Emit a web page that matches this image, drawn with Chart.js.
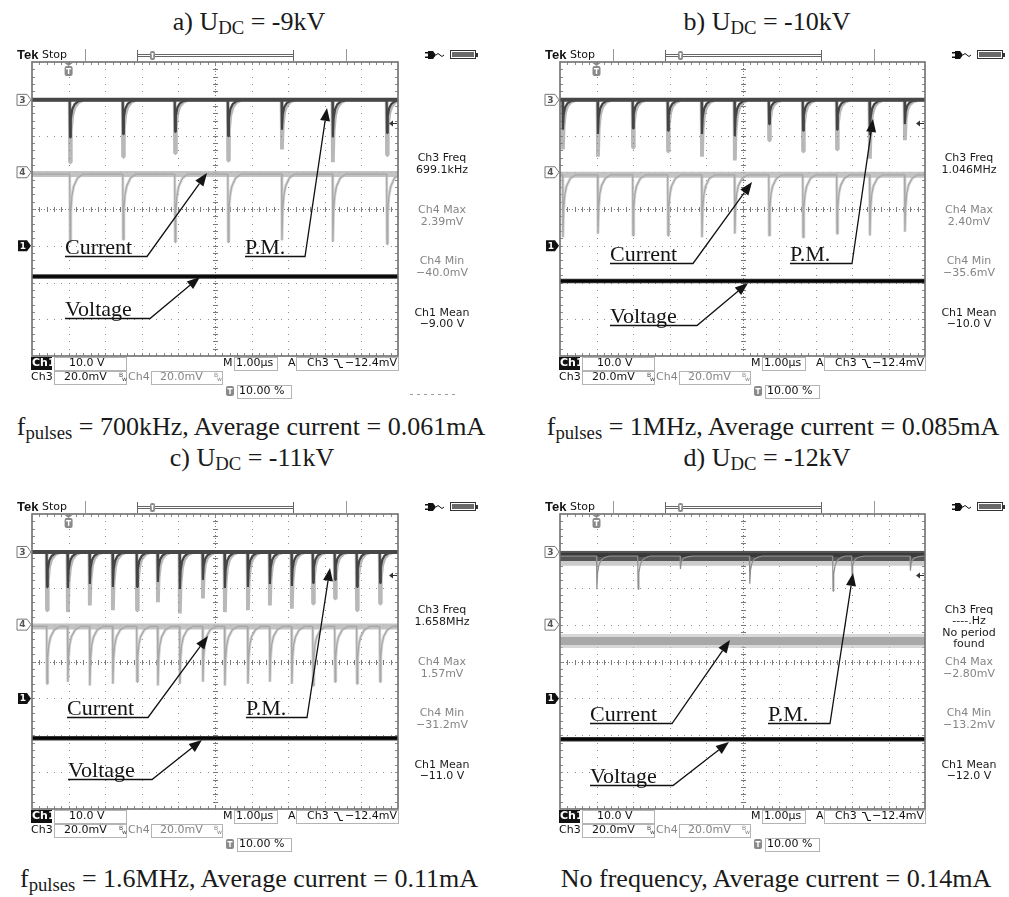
<!DOCTYPE html>
<html>
<head>
<meta charset="utf-8">
<script src="https://cdn.jsdelivr.net/npm/chart.js@4.4.1/dist/chart.umd.min.js"></script>
<style>
html,body{margin:0;padding:0;background:#fff;}
body{width:1009px;height:897px;position:relative;overflow:hidden;font-family:"Liberation Serif","Times New Roman",serif;}
.t{position:absolute;width:520px;text-align:center;font-size:26px;line-height:26px;color:#1a1a1a;white-space:nowrap;}
.t sub{font-size:0.72em;vertical-align:baseline;position:relative;top:0.24em;}
.p{position:absolute;}
</style>
</head>
<body>
<div id="root"></div>
<script>
// ---------------- data ----------------
const PANEL_LABELS = ['a', 'b', 'c', 'd'];
const UDC_KV = [-9, -10, -11, -12];
const F_PULSES = ['700kHz', '1MHz', '1.6MHz', null];
const AVG_CURRENT_MA = ['0.061', '0.085', '0.11', '0.14'];

// scope settings
const CH3_REF = 2.97;      // ch3 marker (div from centre)
const CH4_REF = 1.0;       // ch4 marker
const CH1_REF = -1.0;      // ch1 ground marker
const CH1_V_PER_DIV = 10;
const CH34_MV_PER_DIV = 20;
const TRIG_TIME_US = 1.0;
const TRIG_LEVEL_MV = -12.4;

// pulse times (µs from left edge) and depths (div)
const PULSES_A = [1.04, 2.49, 3.91, 5.36, 6.83, 8.22, 9.70];
const PM_DEPTH_A = [1.70, 1.55, 1.45, 1.65, 1.35, 1.70, 1.50];
const CUR_DEPTH_A = [1.85, 1.78, 1.85, 1.85, 1.80, 1.85, 1.90];

const PULSES_B = [0.08, 1.04, 2.00, 2.96, 3.89, 4.79, 5.73, 6.66, 7.59, 8.49, 9.45];
const PM_DEPTH_B = [1.35, 1.55, 1.30, 1.40, 1.55, 1.65, 1.10, 1.40, 1.35, 1.60, 1.10];
const CUR_DEPTH_B = [1.70, 1.60, 1.65, 1.65, 1.70, 1.60, 1.65, 1.70, 1.60, 1.65, 1.55];

const PULSES_C = [0.41, 0.98, 1.58, 2.21, 2.87, 3.44, 4.04, 4.67, 5.27, 5.90, 6.50, 7.10, 7.68, 8.28, 8.88, 9.51];
const PM_DEPTH_C = [1.58, 1.63, 1.45, 1.58, 1.58, 1.36, 1.67, 1.26, 1.63, 1.58, 1.45, 1.54, 1.40, 1.26, 1.58, 1.40];
const CUR_DEPTH_C = [1.55, 1.50, 1.60, 1.55, 1.50, 1.60, 1.55, 1.50, 1.60, 1.55, 1.50, 1.55, 1.60, 1.50, 1.55, 1.50];

const PULSES_D = [1.01, 2.14, 3.30, 5.20, 7.48, 8.00, 9.60];
const PM_DEPTH_D = [0.90, 0.90, 0.35, 0.75, 0.95, 0.50, 0.40];
const CUR_DEPTH_D = [];

// trace baselines relative to markers (div) and DC voltage trace (V)
const CH3_OFFSET = [0, 0, 0, -0.11];
const CH4_OFFSET = [-0.05, -0.07, -0.05, -0.445];
const VOLT_TRACE_V = [-8.4, -9.6, -10.8, -11.1];

// pulse shape (time offset µs, fraction of depth)
const PM_SHAPE_DT = [-0.01, 0, 0.02, 0.06, 0.12, 0.22, 0.35];
const PM_SHAPE_FR = [0, 1, 0.50, 0.25, 0.12, 0.04, 0];
const CUR_SHAPE_DT = [-0.01, 0, 0.02, 0.05, 0.10, 0.20, 0.35];
const CUR_SHAPE_FR = [0, 1, 0.55, 0.32, 0.18, 0.06, 0];

// readouts
const CH3_FREQ = ['699.1kHz', '1.046MHz', '1.658MHz', null];
const CH4_MAX = ['2.39mV', '2.40mV', '1.57mV', '\u22122.80mV'];
const CH4_MIN = ['\u221240.0mV', '\u221235.6mV', '\u221231.2mV', '\u221213.2mV'];
const CH1_MEAN = ['\u22129.00 V', '\u221210.0 V', '\u221211.0 V', '\u221212.0 V'];

// ---------------- layout ----------------
const X_MIN = 0, X_MAX = 10, Y_MIN = -4, Y_MAX = 4;
const PANELS = [
  {left: 0,   top: 40,  w: 504, h: 370, pad: {left: 32, top: 22, right: 106, bottom: 54},
   titleC: 249, titleTop: 9, capC: 251, capTop: 414,
   ann: [['Current', 33, 192, 115, 194, 175, 111], ['P.M.', 213, 192, 273, 194, 295, 46], ['Voltage', 33, 254, 118, 256, 168, 215]]},
  {left: 504, top: 40,  w: 505, h: 370, pad: {left: 56, top: 22, right: 84, bottom: 54},
   titleC: 767, titleTop: 9, capC: 773, capTop: 414,
   ann: [['Current', 50, 199, 133, 201, 192, 120], ['P.M.', 230, 199, 292, 201, 313, 57], ['Voltage', 50, 261, 137, 263, 188, 221]]},
  {left: 0,   top: 492, w: 504, h: 370, pad: {left: 32, top: 22, right: 106, bottom: 53},
   titleC: 252, titleTop: 445, capC: 249, capTop: 866,
   ann: [['Current', 35, 201, 116, 203, 176, 122], ['P.M.', 214, 201, 275, 203, 298, 54], ['Voltage', 36, 263, 120, 265, 170, 226]]},
  {left: 504, top: 492, w: 505, h: 370, pad: {left: 56, top: 22, right: 84, bottom: 53},
   titleC: 767, titleTop: 445, capC: 776, capTop: 866,
   ann: [['Current', 30, 207, 112, 209, 170, 126], ['P.M.', 208, 207, 270, 209, 293, 59], ['Voltage', 30, 269, 113, 271, 169, 228]]}
];

const SANS = '"DejaVu Sans", "Liberation Sans", Arial, sans-serif';
const SERIF = '"Liberation Serif", "Times New Roman", serif';

function pulseTrace(base, times, depths, dts, fracs, scale) {
  const pts = [{x: X_MIN, y: base}];
  times.forEach((t, i) => dts.forEach((dt, k) => pts.push({x: t + dt, y: base - depths[i] * fracs[k] * scale})));
  pts.sort((p, q) => p.x - q.x);
  if (pts[pts.length - 1].x < X_MAX) pts.push({x: X_MAX, y: base});
  return pts;
}
function flat(v) { return [{x: X_MIN, y: v}, {x: X_MAX, y: v}]; }

function ds(data, color, width, order) {
  return {data, borderColor: color, borderWidth: width, pointRadius: 0, fill: false, tension: 0, order, clip: 0,
          borderJoinStyle: 'bevel', borderCapStyle: 'butt'};
}

// ---------------- drawing helpers ----------------
function marker(ctx, L, cy, label, filled) {
  const x0 = filled ? L - 14 : L - 15, x1 = L - 5, x2 = L - 1, h = 5.5;
  ctx.beginPath();
  ctx.moveTo(x0, cy - h); ctx.lineTo(x1, cy - h); ctx.lineTo(x2, cy); ctx.lineTo(x1, cy + h); ctx.lineTo(x0, cy + h); ctx.closePath();
  if (filled) { ctx.fillStyle = '#111'; ctx.fill(); ctx.fillStyle = '#fff'; }
  else { ctx.fillStyle = '#fff'; ctx.fill(); ctx.strokeStyle = '#777'; ctx.lineWidth = 1; ctx.stroke(); ctx.fillStyle = '#555'; }
  ctx.font = 'bold 9px ' + SANS; ctx.textAlign = 'center'; ctx.textBaseline = 'middle';
  ctx.fillText(label, (x0 + x1) / 2 + 0.5, cy + 0.5);
}
function box(ctx, x0, y0, x1, y1) {
  ctx.strokeStyle = '#b4b4b4'; ctx.lineWidth = 1;
  ctx.strokeRect(Math.round(x0) + 0.5, Math.round(y0) + 0.5, Math.round(x1 - x0), Math.round(y1 - y0));
}
function txt(ctx, s, x, y, color, font, align) {
  ctx.fillStyle = color; ctx.font = font; ctx.textAlign = align || 'left'; ctx.textBaseline = 'middle';
  ctx.fillText(s, x, y);
}
function bw(ctx, x, y, color) {
  ctx.fillStyle = color; ctx.font = '6px ' + SANS; ctx.textAlign = 'left'; ctx.textBaseline = 'middle';
  ctx.fillText('B', x, y - 2); ctx.fillText('w', x + 3, y + 2);
}
function tIcon(ctx, x, y, w, h) {
  ctx.fillStyle = '#8a8a8a';
  ctx.beginPath();
  if (ctx.roundRect) ctx.roundRect(x, y, w, h, 2); else ctx.rect(x, y, w, h);
  ctx.fill();
  ctx.fillStyle = '#fff'; ctx.fillRect(x + 1.5, y + 2, w - 3, 1.4); ctx.fillRect(x + w / 2 - 0.7, y + 2, 1.4, h - 4);
}

const scopePlugin = {
  id: 'scope',
  beforeDatasetsDraw(chart) {
    const {ctx, chartArea: a, scales: {x, y}} = chart;
    ctx.save();
    ctx.fillStyle = '#8c8c8c';
    for (let i = 1; i < 10; i++) {
      if (i === 5) continue;
      const px = Math.round(x.getPixelForValue(i));
      for (let k = 1; k < 40; k++) ctx.fillRect(px, Math.round(y.getPixelForValue(Y_MIN + k * 0.2)), 1, 1);
    }
    for (let j = -3; j <= 3; j++) {
      if (j === 0) continue;
      const py = Math.round(y.getPixelForValue(j));
      for (let k = 1; k < 50; k++) ctx.fillRect(Math.round(x.getPixelForValue(k * 0.2)), py, 1, 1);
    }
    // centre lines
    const cx = Math.round(x.getPixelForValue(5)), cy = Math.round(y.getPixelForValue(0));
    ctx.fillStyle = '#7a7a7a';
    for (let py = a.top; py < a.bottom; py += 3) ctx.fillRect(cx, py, 1, 1);
    for (let px = a.left; px < a.right; px += 3) ctx.fillRect(px, cy, 1, 1);
    for (let k = 1; k < 50; k++) { const px = Math.round(x.getPixelForValue(k * 0.2)); ctx.fillRect(px, cy - 2, 1, 5); }
    for (let k = 1; k < 40; k++) { const py = Math.round(y.getPixelForValue(Y_MIN + k * 0.2)); ctx.fillRect(cx - 2, py, 5, 1); }
    // border ticks
    ctx.fillStyle = '#8a8a8a';
    for (let k = 1; k < 50; k++) {
      const px = Math.round(x.getPixelForValue(k * 0.2));
      ctx.fillRect(px, a.top, 1, 3); ctx.fillRect(px, a.bottom - 3, 1, 3);
    }
    for (let k = 1; k < 40; k++) {
      const py = Math.round(y.getPixelForValue(Y_MIN + k * 0.2));
      ctx.fillRect(a.left, py, 3, 1); ctx.fillRect(a.right - 3, py, 3, 1);
    }
    ctx.restore();
  },
  afterDatasetsDraw(chart, args, o) {
    const {ctx, chartArea: a, scales: {x, y}} = chart;
    const L = a.left, T = a.top, R = a.right, B = a.bottom;
    ctx.save();
    ctx.strokeStyle = '#6f6f6f'; ctx.lineWidth = 1.6; ctx.strokeRect(L, T, R - L, B - T);

    // channel markers
    marker(ctx, L, y.getPixelForValue(CH3_REF), '3', false);
    marker(ctx, L, y.getPixelForValue(CH4_REF), '4', false);
    marker(ctx, L, y.getPixelForValue(CH1_REF), '1', true);

    // trigger level arrow (right edge)
    const tly = Math.round(y.getPixelForValue(CH3_REF + TRIG_LEVEL_MV / CH34_MV_PER_DIV)) + 0.5;
    ctx.strokeStyle = '#333'; ctx.lineWidth = 1;
    ctx.beginPath(); ctx.moveTo(R - 7, tly); ctx.lineTo(R - 1, tly); ctx.stroke();
    ctx.fillStyle = '#333'; ctx.beginPath(); ctx.moveTo(R - 9, tly); ctx.lineTo(R - 5, tly - 3); ctx.lineTo(R - 5, tly + 3); ctx.closePath(); ctx.fill();

    // trigger time marker
    const tx = x.getPixelForValue(TRIG_TIME_US);
    ctx.fillStyle = '#8a8a8a';
    ctx.beginPath(); ctx.moveTo(tx - 4, T + 1); ctx.lineTo(tx + 4, T + 1); ctx.lineTo(tx, T + 4); ctx.closePath(); ctx.fill();
    tIcon(ctx, tx - 4, T + 4, 8, 10);

    // header
    txt(ctx, 'Tek', L - 15, T - 7, '#111', 'bold 13px "Liberation Sans", Arial, sans-serif');
    txt(ctx, 'Stop', L + 10, T - 7, '#111', '11px ' + SANS);
    ctx.strokeStyle = '#9a9a9a'; ctx.lineWidth = 1;
    [53, 314].forEach(dx => { ctx.beginPath(); ctx.moveTo(L + dx + 0.5, T - 13); ctx.lineTo(L + dx + 0.5, T - 1); ctx.stroke(); });
    ctx.strokeStyle = '#666';
    ctx.beginPath();
    ctx.moveTo(L + 105.5, T - 12); ctx.lineTo(L + 105.5, T - 1);
    ctx.moveTo(L + 261.5, T - 12); ctx.lineTo(L + 261.5, T - 1);
    ctx.moveTo(L + 105, T - 7.5); ctx.lineTo(L + 262, T - 7.5);
    ctx.moveTo(L + 105, T - 5.5); ctx.lineTo(L + 262, T - 5.5);
    ctx.stroke();
    tIcon(ctx, L + 118, T - 11, 5, 9);
    // plug + battery
    ctx.fillStyle = '#111';
    ctx.beginPath(); ctx.moveTo(R + 30, T - 11); ctx.lineTo(R + 35, T - 11); ctx.lineTo(R + 38, T - 7); ctx.lineTo(R + 35, T - 3); ctx.lineTo(R + 30, T - 3); ctx.closePath(); ctx.fill();
    ctx.fillRect(R + 27, T - 10, 3, 1.5); ctx.fillRect(R + 27, T - 5.5, 3, 1.5);
    ctx.strokeStyle = '#111'; ctx.lineWidth = 1;
    ctx.beginPath(); ctx.moveTo(R + 38, T - 7); ctx.quadraticCurveTo(R + 40, T - 10, R + 42, T - 7); ctx.quadraticCurveTo(R + 44, T - 4, R + 46, T - 7); ctx.stroke();
    ctx.strokeStyle = '#333'; ctx.strokeRect(R + 52.5, T - 11.5, 25, 8);
    ctx.fillStyle = '#6a6a6a'; ctx.fillRect(R + 54, T - 10, 22, 5);
    ctx.fillStyle = '#333'; ctx.fillRect(R + 78, T - 9, 2, 4);

    // right readouts
    const cx = R + 44;
    const f12 = '11px ' + SANS;
    const i = o.idx;
    const dark = '#1a1a1a', grey = '#858585';
    txt(ctx, 'Ch3 Freq', cx, T + 96, dark, f12, 'center');
    if (CH3_FREQ[i]) {
      txt(ctx, CH3_FREQ[i], cx, T + 108, dark, f12, 'center');
    } else {
      txt(ctx, '----.Hz', cx, T + 107.5, dark, f12, 'center');
      txt(ctx, 'No period', cx, T + 119, dark, f12, 'center');
      txt(ctx, 'found', cx, T + 130.5, dark, f12, 'center');
    }
    txt(ctx, 'Ch4 Max', cx, T + 148, grey, f12, 'center');
    txt(ctx, CH4_MAX[i], cx, T + 160, grey, f12, 'center');
    txt(ctx, 'Ch4 Min', cx, T + 199, grey, f12, 'center');
    txt(ctx, CH4_MIN[i], cx, T + 211, grey, f12, 'center');
    txt(ctx, 'Ch1 Mean', cx, T + 251, dark, f12, 'center');
    txt(ctx, CH1_MEAN[i], cx, T + 262, dark, f12, 'center');

    // bottom readouts
    const r1 = B + 7.5, r2 = B + 21.5, r3 = B + 35.5;
    ctx.fillStyle = '#111'; ctx.fillRect(L - 1, B + 1, 21, 13);
    txt(ctx, 'Ch1', L, r1, '#fff', 'bold 11px ' + SANS);
    box(ctx, L + 22, B + 1, L + 94, B + 14);
    txt(ctx, CH1_V_PER_DIV.toFixed(1) + ' V', L + 37, r1, '#111', f12);
    txt(ctx, 'M', L + 191, r1, '#111', f12);
    box(ctx, L + 202, B + 1, L + 245, B + 14);
    txt(ctx, '1.00\u00b5s', L + 204, r1, '#111', f12);
    txt(ctx, 'A', L + 256, r1, '#111', f12);
    box(ctx, L + 264, B + 1, R, B + 14);
    txt(ctx, 'Ch3', L + 275, r1, '#111', f12);
    ctx.strokeStyle = '#111'; ctx.lineWidth = 1.2;
    ctx.beginPath(); ctx.moveTo(L + 302, r1 - 4); ctx.lineTo(L + 305, r1 - 4); ctx.lineTo(L + 308, r1 + 4); ctx.lineTo(L + 311, r1 + 4); ctx.stroke();
    txt(ctx, '\u2212' + Math.abs(TRIG_LEVEL_MV).toFixed(1) + 'mV', R - 1, r1, '#111', f12, 'right');

    txt(ctx, 'Ch3', L - 1, r2, '#111', f12);
    box(ctx, L + 22, B + 15, L + 94, B + 28);
    txt(ctx, CH34_MV_PER_DIV.toFixed(1) + 'mV', L + 32, r2, '#111', f12);
    bw(ctx, L + 87, r2, '#444');
    txt(ctx, 'Ch4', L + 96, r2, grey, f12);
    box(ctx, L + 119, B + 15, L + 190, B + 28);
    txt(ctx, CH34_MV_PER_DIV.toFixed(1) + 'mV', L + 128, r2, grey, f12);
    bw(ctx, L + 182, r2, grey);

    tIcon(ctx, L + 194, B + 30, 8, 10);
    box(ctx, L + 205, B + 29, L + 259, B + 42);
    txt(ctx, '10.00 %', L + 207, r3, '#111', f12);
    if (o.dashes) {
      ctx.fillStyle = '#9a9a9a';
      for (let k = 0; k < 7; k++) ctx.fillRect(R + 12 + k * 7, B + 38, 3, 1);
    }

    // annotations
    ctx.strokeStyle = '#111'; ctx.fillStyle = '#111';
    o.ann.forEach(([label, tx0, ty0, ux, uy, px, py]) => {
      ctx.font = '22px ' + SERIF; ctx.textAlign = 'left'; ctx.textBaseline = 'alphabetic'; ctx.fillStyle = '#141414';
      ctx.fillText(label, L + tx0, T + ty0);
      ctx.lineWidth = 1.3;
      ctx.beginPath(); ctx.moveTo(L + tx0, T + uy + 0.5); ctx.lineTo(L + ux, T + uy + 0.5);
      const ang = Math.atan2(py - uy, px - ux);
      const hl = 13, hw = 5;
      const bx = L + px - Math.cos(ang) * hl, by = T + py - Math.sin(ang) * hl;
      ctx.lineTo(bx, by); ctx.stroke();
      ctx.beginPath();
      ctx.moveTo(L + px, T + py);
      ctx.lineTo(bx + Math.sin(ang) * hw, by - Math.cos(ang) * hw);
      ctx.lineTo(bx - Math.sin(ang) * hw, by + Math.cos(ang) * hw);
      ctx.closePath(); ctx.fill();
    });
    ctx.restore();
  }
};

const PULSES = [PULSES_A, PULSES_B, PULSES_C, PULSES_D];
const PM_DEPTH = [PM_DEPTH_A, PM_DEPTH_B, PM_DEPTH_C, PM_DEPTH_D];
const CUR_DEPTH = [CUR_DEPTH_A, CUR_DEPTH_B, CUR_DEPTH_C, CUR_DEPTH_D];

const root = document.getElementById('root');
PANELS.forEach((P, i) => {
  // title + caption (HTML text)
  const t = document.createElement('div');
  t.className = 't'; t.style.left = (P.titleC - 260) + 'px'; t.style.top = P.titleTop + 'px';
  t.innerHTML = PANEL_LABELS[i] + ') U<sub>DC</sub> = ' + UDC_KV[i] + 'kV';
  root.appendChild(t);
  const c = document.createElement('div');
  c.className = 't'; c.style.left = (P.capC - 260) + 'px'; c.style.top = P.capTop + 'px';
  c.innerHTML = (F_PULSES[i] ? 'f<sub>pulses</sub> = ' + F_PULSES[i] : 'No frequency') + ', Average current = ' + AVG_CURRENT_MA[i] + 'mA';
  root.appendChild(c);

  const cv = document.createElement('canvas');
  cv.className = 'p'; cv.width = P.w; cv.height = P.h;
  cv.style.left = P.left + 'px'; cv.style.top = P.top + 'px';
  cv.style.width = P.w + 'px'; cv.style.height = P.h + 'px';
  root.appendChild(cv);

  const ch3Base = CH3_REF + CH3_OFFSET[i];
  const ch4Base = CH4_REF + CH4_OFFSET[i];
  const volt = CH1_REF + VOLT_TRACE_V[i] / CH1_V_PER_DIV;
  const noisy = i === 3;

  const datasets = [];
  datasets.push(ds(flat(volt), '#333', 4.5, 1));
  datasets.push(ds(flat(volt), '#050505', 2.5, 0));
  if (noisy) {
    datasets.push(ds(flat(ch3Base - 0.06), 'rgba(140,140,140,0.45)', 15, 5));
    datasets.push(ds(flat(ch3Base), '#555', 10, 4));
    datasets.push(ds(flat(ch3Base + 0.03), '#3a3a3a', 4, 3));
    datasets.push(ds(pulseTrace(ch3Base, PULSES[i], PM_DEPTH[i], PM_SHAPE_DT, PM_SHAPE_FR, 1), '#8e8e8e', 1.2, 2));
    datasets.push(ds(flat(ch4Base), 'rgba(190,190,190,0.6)', 14, 8));
    datasets.push(ds(flat(ch4Base), '#a8a8a8', 8, 7));
  } else {
    datasets.push(ds(pulseTrace(ch3Base, PULSES[i], PM_DEPTH[i], PM_SHAPE_DT, PM_SHAPE_FR, 1), 'rgba(125,125,125,0.55)', 3.8, 4));
    datasets.push(ds(pulseTrace(ch3Base, PULSES[i], PM_DEPTH[i], PM_SHAPE_DT, PM_SHAPE_FR, 0.6), '#444', 2.2, 3));
    datasets.push(ds(flat(ch3Base), '#474747', 4, 2));
    datasets.push(ds(flat(ch4Base), 'rgba(185,185,185,0.85)', 6, 8));
    datasets.push(ds(pulseTrace(ch4Base, PULSES[i], CUR_DEPTH[i], CUR_SHAPE_DT, CUR_SHAPE_FR, 1), 'rgba(190,190,190,0.6)', 3, 7));
    datasets.push(ds(pulseTrace(ch4Base, PULSES[i], CUR_DEPTH[i], CUR_SHAPE_DT, CUR_SHAPE_FR, 1), '#a8a8a8', 1.3, 6));
  }

  new Chart(cv, {
    type: 'line',
    data: {datasets},
    options: {
      responsive: false, animation: false, events: [],
      layout: {padding: P.pad},
      scales: {
        x: {type: 'linear', min: X_MIN, max: X_MAX, display: false},
        y: {type: 'linear', min: Y_MIN, max: Y_MAX, display: false}
      },
      plugins: {legend: {display: false}, tooltip: {enabled: false},
                scope: {idx: i, ann: P.ann, dashes: i === 0}},
      elements: {point: {radius: 0}, line: {tension: 0}}
    },
    plugins: [scopePlugin]
  });
});
</script>
</body>
</html>
